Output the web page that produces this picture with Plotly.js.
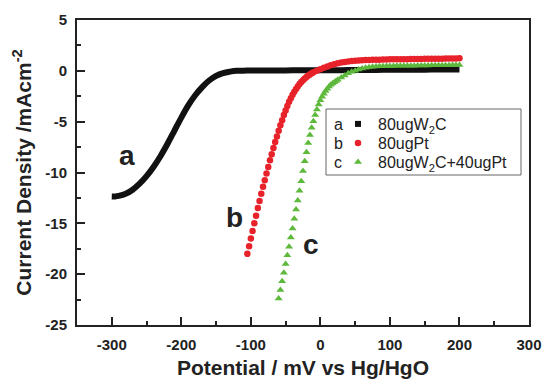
<!DOCTYPE html>
<html>
<head>
<meta charset="utf-8">
<script src="https://cdn.plot.ly/plotly-3.0.1.min.js"></script>
<style>html,body{margin:0;padding:0;background:#fff;}#chart{width:544px;height:384px;}</style>
</head>
<body>
<div id="chart"></div>
<script>
// Curve a: 80ugW2C
var aX = [-300,-295,-290,-280,-270,-260,-250,-240,-230,-220,-210,-200,-190,-180,-170,-160,-150,-140,-130,-120,-110,-100,-80,-60,-40,-20,0,20,40,60,80,100,120,140,160,180,200];
var aY = [-12.35,-12.35,-12.3,-12.1,-11.7,-11.1,-10.35,-9.45,-8.4,-7.2,-5.9,-4.6,-3.4,-2.4,-1.6,-0.95,-0.5,-0.22,-0.08,0.0,0.02,0.03,0.04,0.04,0.05,0.05,0.05,0.06,0.07,0.08,0.09,0.1,0.1,0.11,0.12,0.12,0.13];

// Curve b: 80ugPt
var bX = [-105,-102.5,-100,-97.5,-95,-92.5,-90,-87.5,-85,-82.5,-80,-77.5,-75,-72.5,-70,-67.5,-65,-62.5,-60,-57.5,-55,-52.5,-50,-47.5,-45,-42.5,-40,-37.5,-35,-32.5,-30,-27.5,-25,-22.5,-20,-17.5,-15,-12.5,-10,-5,0,5,10,15,20,25,30,35,40,45,50,55,60,65,70,75,80,85,90,95,100,105,110,115,120,125,130,135,140,145,150,155,160,165,170,175,180,185,190,195,200];
var bY = [-18.0,-17.25,-16.5,-15.75,-15.0,-14.25,-13.5,-12.8,-12.1,-11.4,-10.75,-10.1,-9.45,-8.8,-8.2,-7.6,-7.0,-6.45,-5.9,-5.35,-4.85,-4.35,-3.9,-3.45,-3.05,-2.7,-2.35,-2.05,-1.78,-1.53,-1.3,-1.1,-0.92,-0.75,-0.6,-0.47,-0.35,-0.25,-0.15,0.0,0.15,0.3,0.43,0.55,0.65,0.74,0.81,0.87,0.92,0.96,0.99,1.02,1.04,1.06,1.07,1.08,1.09,1.10,1.11,1.12,1.13,1.13,1.14,1.14,1.15,1.15,1.16,1.16,1.17,1.17,1.18,1.18,1.19,1.19,1.20,1.20,1.21,1.21,1.22,1.22,1.23];

// Curve c: 80ugW2C+40ugPt
var cX = [-60,-57.5,-55,-52.5,-50,-47.5,-45,-42.5,-40,-37.5,-35,-32.5,-30,-27.5,-25,-22.5,-20,-17.5,-15,-12.5,-10,-7.5,-5,-2.5,0,2.5,5,7.5,10,12.5,15,17.5,20,22.5,25,30,35,40,45,50,55,60,65,70,75,80,85,90,95,100,105,110,115,120,125,130,135,140,145,150,155,160,165,170,175,180,185,190,195,200];
var cY = [-22.4,-21.55,-20.7,-19.85,-19.0,-18.15,-17.3,-16.4,-15.5,-14.55,-13.65,-12.75,-11.8,-10.85,-9.85,-8.9,-8.0,-7.1,-6.3,-5.6,-4.95,-4.35,-3.8,-3.3,-2.9,-2.55,-2.25,-1.98,-1.75,-1.55,-1.38,-1.25,-1.12,-1.0,-0.88,-0.65,-0.45,-0.25,-0.1,0.02,0.12,0.22,0.3,0.35,0.39,0.42,0.44,0.46,0.47,0.48,0.48,0.49,0.49,0.5,0.5,0.51,0.51,0.52,0.52,0.53,0.53,0.54,0.54,0.55,0.55,0.56,0.56,0.57,0.57,0.58];

var seriesNames = ['80ugW<sub>2</sub>C', '80ugPt', '80ugW<sub>2</sub>C+40ugPt'];
var seriesLetters = ['a', 'b', 'c'];
var xTicks = [-300,-200,-100,0,100,200,300];
var yTicks = [-25,-20,-15,-10,-5,0,5];

var FONT = 'Liberation Sans, Arial, Helvetica, sans-serif';
var BLACK = '#111111', RED = '#e8222a', GREEN = '#5db83c';

var traces = [
  {x: aX, y: aY, mode: 'lines', line: {color: BLACK, width: 6, shape: 'spline'}, showlegend: false, hoverinfo: 'skip'},
  {x: [null], y: [null], mode: 'markers', name: seriesNames[0], legend: 'legend', marker: {symbol: 'square', size: 6, color: BLACK}},
  {x: bX, y: bY, mode: 'markers', name: seriesNames[1], legend: 'legend2', marker: {symbol: 'circle', size: 6.5, color: RED}},
  {x: cX, y: cY, mode: 'markers', name: seriesNames[2], legend: 'legend3', marker: {symbol: 'triangle-up', size: 7, color: GREEN}}
];

function px2x(p) { return (p - 77) / 452; }
function px2y(p) { return (325 - p) / 305; }

var rowY = [124, 143, 162];
var annotations = [
  {text: 'a', x: px2x(117), y: px2y(155), xref: 'paper', yref: 'paper', showarrow: false, font: {family: FONT, size: 28, color: '#222', weight: 'bold'}},
  {text: 'b', x: px2x(234), y: px2y(218), xref: 'paper', yref: 'paper', showarrow: false, font: {family: FONT, size: 28, color: '#222', weight: 'bold'}},
  {text: 'c', x: px2x(311), y: px2y(262), xref: 'paper', yref: 'paper', showarrow: false, font: {family: FONT, size: 28, color: '#222', weight: 'bold'}}
];
for (var i = 0; i < 3; i++) {
  annotations.push({text: seriesLetters[i], x: px2x(338), y: px2y(rowY[i]), xref: 'paper', yref: 'paper', showarrow: false, font: {family: FONT, size: 16, color: '#222'}});
}

function legendAt(py) {
  return {
    x: px2x(338), y: px2y(py), xanchor: 'left', yanchor: 'middle',
    bgcolor: 'rgba(0,0,0,0)', borderwidth: 0,
    font: {family: FONT, size: 16, color: '#222'}
  };
}

var axisCommon = {
  showgrid: false, zeroline: false, showline: true, linecolor: '#222', linewidth: 2, mirror: true,
  ticks: 'inside', ticklen: 8, tickwidth: 2, tickcolor: '#222',
  tickfont: {family: FONT, size: 15, color: '#222', weight: 'bold'},
  ticklabelstandoff: 5
};

var layout = {
  width: 544, height: 384,
  margin: {l: 77, r: 15, t: 20, b: 59},
  paper_bgcolor: '#fff', plot_bgcolor: '#fff',
  font: {family: FONT, color: '#222'},
  xaxis: Object.assign({}, axisCommon, {
    range: [-350, 300], tickmode: 'array', tickvals: xTicks, ticktext: xTicks.map(String),
    minor: {ticks: 'inside', ticklen: 4, tickwidth: 2, tickcolor: '#222', dtick: 50, tick0: -350},
    title: {text: 'Potential / mV vs Hg/HgO', font: {family: FONT, size: 21, color: '#222', weight: 'bold'}, standoff: 8}
  }),
  yaxis: Object.assign({}, axisCommon, {
    range: [-25, 5], tickmode: 'array', tickvals: yTicks, ticktext: yTicks.map(String),
    minor: {ticks: 'inside', ticklen: 4, tickwidth: 2, tickcolor: '#222', dtick: 2.5, tick0: -25},
    title: {text: 'Current Density /mAcm<sup>-2</sup>', font: {family: FONT, size: 21, color: '#222', weight: 'bold'}, standoff: 8}
  }),
  legend: legendAt(rowY[0]),
  legend2: legendAt(rowY[1]),
  legend3: legendAt(rowY[2]),
  shapes: [
    {type: 'rect', xref: 'paper', yref: 'paper', x0: px2x(326), x1: px2x(521), y0: px2y(175), y1: px2y(109), line: {color: '#666', width: 1}, fillcolor: 'rgba(0,0,0,0)'}
  ],
  annotations: annotations
};

Plotly.newPlot('chart', traces, layout, {displayModeBar: false, staticPlot: true});
</script>
</body>
</html>
